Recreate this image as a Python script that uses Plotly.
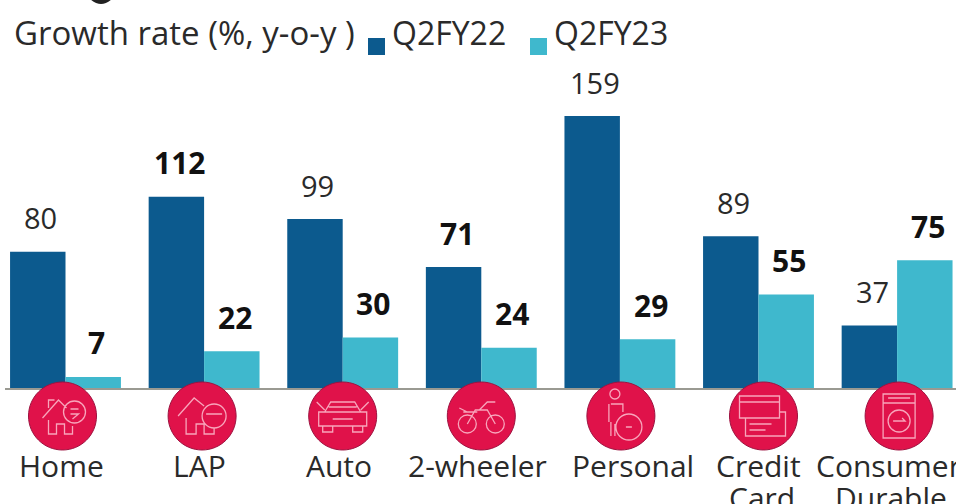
import plotly.graph_objects as go

categories = ["Home", "LAP", "Auto", "2-wheeler", "Personal", "Credit", "Consumer"]
category_line2 = ["", "", "", "", "", "Card", "Durable"]
q2fy22 = [80, 112, 99, 71, 159, 89, 37]
q2fy23 = [7, 22, 30, 24, 29, 55, 75]
bold22 = [False, True, False, True, False, False, False]
bold23 = [True, True, True, True, True, True, True]
label_dx = [-4, -5, -4, -4, 13, 0, -9]
line2_dx = [0, 0, 0, 0, 0, 3, -6]
icon_dx = [-3, -2, 0, 0, 1, 5, 2]
title_text = "Growth rate (%, y-o-y )"

DARK = "#0c5a8e"
LIGHT = "#3fb8cd"
RED = "#e0124a"
PINK = "#f8a5bb"
INK = "#2a2a2a"
FONT = "Open Sans"
W, H = 956, 504
BASE = 389
SCALE = 273 / 159
STEP = 138.6
C0 = 65.5


def circ(cx, cy, r):
    k = 0.5523 * r
    return (f"M {cx-r},{cy} C {cx-r},{cy+k} {cx-k},{cy+r} {cx},{cy+r} "
            f"C {cx+k},{cy+r} {cx+r},{cy+k} {cx+r},{cy} "
            f"C {cx+r},{cy-k} {cx+k},{cy-r} {cx},{cy-r} "
            f"C {cx-k},{cy-r} {cx-r},{cy-k} {cx-r},{cy} Z ")


fig = go.Figure()
xs = list(range(len(categories)))
fig.add_bar(x=xs, y=q2fy22, name="Q2FY22", marker_color=DARK, marker_line_width=0)
fig.add_bar(x=xs, y=q2fy23, name="Q2FY23", marker_color=LIGHT, marker_line_width=0)

ann = []
for i in xs:
    for vals, bolds, off, shift in ((q2fy22, bold22, -0.2, 3), (q2fy23, bold23, 0.2, 3)):
        t = str(vals[i])
        ann.append(dict(x=i + off, y=vals[i], xref="x", yref="y", text=f"<b>{t}</b>" if bolds[i] else t,
                        showarrow=False, yanchor="middle", xanchor="center", xshift=shift, yshift=34,
                        font=dict(family=FONT, size=30 if bolds[i] else 29, color="#111111" if bolds[i] else INK)))
    ann.append(dict(x=i, y=0, xref="x", yref="y", text=categories[i], showarrow=False, yanchor="top",
                    xanchor="center", xshift=label_dx[i], yshift=-54, align="center",
                    font=dict(family=FONT, size=30, color=INK)))
    if category_line2[i]:
        ann.append(dict(x=i, y=0, xref="x", yref="y", text=category_line2[i], showarrow=False, yanchor="top",
                        xanchor="center", xshift=line2_dx[i], yshift=-86, align="center",
                        font=dict(family=FONT, size=30, color=INK)))
ann.append(dict(x=12 / W, y=1 - 33 / H, xref="paper", yref="paper", text=title_text, showarrow=False,
                xanchor="left", yanchor="middle", font=dict(family=FONT, size=33, color=INK)))
ann.append(dict(x=390 / W, y=1 - 33 / H, xref="paper", yref="paper", text="Q2FY22", showarrow=False,
                xanchor="left", yanchor="middle", font=dict(family=FONT, size=32, color=INK)))
ann.append(dict(x=552 / W, y=1 - 33 / H, xref="paper", yref="paper", text="Q2FY23", showarrow=False,
                xanchor="left", yanchor="middle", font=dict(family=FONT, size=32, color=INK)))

shapes = [
    dict(type="rect", xref="paper", yref="paper", x0=368 / W, x1=385 / W, y0=1 - 55 / H, y1=1 - 38 / H,
         fillcolor=DARK, line_width=0),
    dict(type="rect", xref="paper", yref="paper", x0=530 / W, x1=547 / W, y0=1 - 55 / H, y1=1 - 38 / H,
         fillcolor=LIGHT, line_width=0),
    dict(type="line", xref="paper", yref="y", x0=5 / W, x1=1, y0=0, y1=0, line=dict(color="#9a9a92", width=2)),
    dict(type="path", xref="paper", yref="paper", path=f"M {90/W},1.002 Q {101/W},{1-9/H} {112/W},1.002 Z",
         fillcolor="#222222", line_width=0),
]

circle = circ(0, 0, 34)
icons = [
    "M -20,-2 L -4,16 L 4,8 M -14,-4 V -18 H -6 V -8 H 2 V -18 H 10 V -10 " + circ(12, 4, 11) + "M 8,7 H 16 M 8,2 H 16 L 10,-3 M -14,8 V 16 H -8",
    "M -24,0 L -8,18 L 2,10 M -16,-2 V -18 H -6 V -8 H 2 V -18 H 12 V -12 " + circ(12, 0, 12) + "M 4,2 H 20",
    "M -18,4 L -12,14 H 12 L 18,4 M -24,4 H 24 V -10 H -24 Z M -20,-10 V -16 H -10 V -10 M 10,-10 V -16 H 20 V -10 M -10,-3 H 10 M -14,9 H 14 M -26,14 L -18,6 M 26,14 L 18,6",
    circ(-14, -8, 9) + circ(14, -8, 9) + "M -14,-8 L -6,6 H 6 L 14,-8 M -2,6 L 6,14 H 14 M -18,4 H -4 M -22,8 L -14,4",
    circ(-6, 22, 5) + circ(8, -11, 13) + "M -12,12 V -6 M -10,12 H 2 V 4 M -10,-6 V -20 M -6,-20 V -8 M 5,-11 H 11",
    "M -24,20 H 16 V -2 H -24 Z M -24,14 H 16 M -8,-2 H -18 V -20 H 22 V 4 H 16 M -14,-8 H 8 M -14,-14 H 2",
    "M -16,22 H 16 V -22 H -16 Z M -16,13 H 16 M -11,18 H 11 " + circ(0, -5, 11) + "M -6,-5 H 6 L 3,-2",
]
for i in xs:
    anchor = dict(xsizemode="pixel", ysizemode="pixel", xref="x", yref="y", xanchor=i + icon_dx[i] / STEP,
                  yanchor=-27 / SCALE)
    shapes.append(dict(type="path", path=circle, fillcolor=RED, line=dict(color="#9d1240", width=1), layer="above", **anchor))
    shapes.append(dict(type="path", path=icons[i], fillcolor="rgba(0,0,0,0)", line=dict(color=PINK, width=1.3), layer="above", **anchor))

fig.update_layout(
    width=W, height=H, autosize=False, margin=dict(l=0, r=0, t=0, b=0),
    paper_bgcolor="white", plot_bgcolor="white", showlegend=False,
    barmode="group", bargap=0.2, bargroupgap=0,
    annotations=ann, shapes=shapes,
    xaxis=dict(type="linear", range=[-C0 / STEP, (W - C0) / STEP], visible=False),
    yaxis=dict(range=[-(H - BASE) / SCALE, BASE / SCALE], visible=False),
)
fig.write_html("out.html", config=dict(displayModeBar=False),
               post_script="document.body.style.margin='0';document.body.style.overflow='hidden';")
